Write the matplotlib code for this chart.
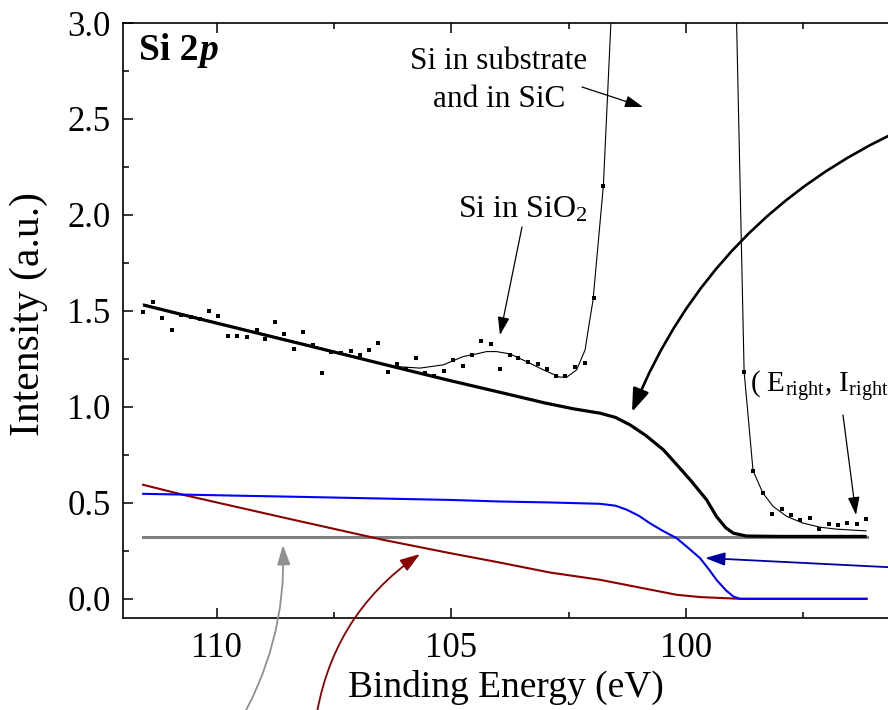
import matplotlib
matplotlib.use("Agg")
import matplotlib.pyplot as plt
from matplotlib.ticker import MultipleLocator

plt.rcParams['font.family'] = ['Liberation Serif', 'DejaVu Serif']
plt.rcParams['mathtext.fontset'] = 'custom'
plt.rcParams['mathtext.rm'] = 'Liberation Serif'
plt.rcParams['mathtext.it'] = 'Liberation Serif:italic'
plt.rcParams['mathtext.bf'] = 'Liberation Serif:bold'

# ---- data (binding energy in eV, intensity in a.u.) ----
dots_E = [111.57, 111.36, 111.16, 110.96, 110.77, 110.56, 110.36, 110.16, 109.97, 109.76,
          109.57, 109.36, 109.15, 108.97, 108.76, 108.56, 108.36, 108.16, 107.96, 107.75,
          107.56, 107.36, 107.15, 106.95, 106.75, 106.56, 106.36, 106.16, 105.96, 105.76,
          105.56, 105.36, 105.16, 104.96, 104.76, 104.56, 104.36, 104.16, 103.96, 103.76,
          103.57, 103.36, 103.16, 102.96, 102.77, 102.57, 102.36, 102.15, 101.96, 101.76,
          98.76, 98.57, 98.36, 98.16, 97.96, 97.76, 97.56, 97.36, 97.16, 96.96,
          96.76, 96.56, 96.36, 96.16]
dots_I = [1.496, 1.545, 1.462, 1.401, 1.481, 1.470, 1.458, 1.500, 1.474, 1.371,
          1.368, 1.365, 1.401, 1.353, 1.444, 1.380, 1.300, 1.389, 1.320, 1.179,
          1.288, 1.282, 1.293, 1.270, 1.297, 1.335, 1.183, 1.223, 1.197, 1.254,
          1.176, 1.160, 1.188, 1.245, 1.214, 1.271, 1.344, 1.326, 1.196, 1.271,
          1.253, 1.236, 1.224, 1.196, 1.161, 1.163, 1.207, 1.228, 1.569, 2.153,
          1.184, 0.668, 0.551, 0.444, 0.469, 0.4375, 0.408, 0.423, 0.365, 0.392,
          0.387, 0.396, 0.392, 0.417]

fit_E = [111.57, 111.0, 110.0, 109.0, 108.0, 107.2, 106.74, 106.17, 105.67, 105.17,
         104.75, 104.46, 104.25, 104.04, 103.75, 103.40, 103.04, 102.69, 102.54, 102.33,
         102.15, 102.05, 101.98, 101.76, 101.60, 101.45, 101.2, 100.6, 100.0, 99.4,
         99.08, 98.92, 98.76, 98.57, 98.36, 98.14, 97.85, 97.50, 97.14, 96.79, 96.16]
fit_I = [1.535, 1.500, 1.440, 1.380, 1.320, 1.272, 1.240, 1.210, 1.202, 1.219,
         1.262, 1.276, 1.288, 1.288, 1.276, 1.236, 1.193, 1.155, 1.155, 1.193,
         1.297, 1.453, 1.557, 2.153, 3.000, 3.800, 5.000, 6.000, 6.500, 5.500,
         4.800, 3.000, 1.184, 0.668, 0.551, 0.481, 0.429, 0.394, 0.373, 0.363, 0.354]

bg_E = [111.57, 110.0, 108.0, 106.0, 105.03, 104.0, 103.0, 102.4, 101.83, 101.5,
        101.19, 100.85, 100.48, 100.2, 99.91, 99.56, 99.35, 99.15, 98.99, 98.71,
        98.0, 97.0, 96.15]
bg_I = [1.531, 1.436, 1.316, 1.195, 1.137, 1.078, 1.020, 0.990, 0.967, 0.945,
        0.906, 0.850, 0.776, 0.700, 0.620, 0.516, 0.429, 0.370, 0.342, 0.327,
        0.325, 0.325, 0.325]

blue_E = [111.57, 108.0, 105.0, 103.97, 102.90, 101.83, 101.5, 101.26, 101.0, 100.77,
          100.5, 100.20, 99.95, 99.70, 99.5, 99.35, 99.15, 98.99, 98.85, 96.15]
blue_I = [0.547, 0.530, 0.515, 0.507, 0.502, 0.495, 0.485, 0.464, 0.432, 0.394,
          0.355, 0.316, 0.265, 0.212, 0.150, 0.099, 0.045, 0.012, 0.0, 0.0]

red_E = [111.57, 110.72, 108.52, 106.45, 105.03, 103.97, 102.90, 101.83, 100.20, 99.70,
         98.85, 96.15]
red_I = [0.594, 0.542, 0.420, 0.307, 0.238, 0.189, 0.137, 0.099, 0.021, 0.009,
         0.0, 0.0]

grey_E = [111.57, 96.15]
grey_I = [0.32, 0.32]

x_ticks = [110, 105, 100]
y_ticks = [0.0, 0.5, 1.0, 1.5, 2.0, 2.5, 3.0]

# ---- figure ----
W, H = 888, 710
fig = plt.figure(figsize=(W / 100, H / 100), dpi=100)
ax = fig.add_axes([123 / W, (H - 618) / H, (920.5 - 123) / W, (618 - 23) / H])
ax.set_xlim(112.0, 95.0)
ax.set_ylim(-0.1, 3.0)

ax.plot(grey_E, grey_I, color='#808080', lw=2.2, zorder=2)
ax.plot(red_E, red_I, color='#8b0000', lw=1.5, zorder=3)
ax.plot(blue_E, blue_I, color='#0000ff', lw=1.5, zorder=4)
ax.plot(bg_E, bg_I, color='black', lw=2.3, zorder=5, solid_capstyle='butt')
ax.plot(fit_E, fit_I, color='black', lw=0.8, zorder=6)
ax.plot(dots_E, dots_I, linestyle='none', marker='s', ms=2.6, mfc='black',
        mec='black', mew=0, zorder=7)

ax.set_xticks(x_ticks)
ax.set_yticks(y_ticks)
ax.set_yticklabels([f"{v:.1f}" for v in y_ticks])
ax.xaxis.set_minor_locator(MultipleLocator(2.5))
ax.yaxis.set_minor_locator(MultipleLocator(0.25))
ax.tick_params(which='both', direction='in', top=True, right=True, width=1.1,
               labelsize=25)
ax.tick_params(which='major', length=7.5)
ax.tick_params(which='minor', length=4.5)
ax.tick_params(axis='x', pad=10)
ax.tick_params(axis='y', pad=9)
for s in ax.spines.values():
    s.set_linewidth(1.2)


def fx(px):
    return px / W


def fy(py):
    return 1 - py / H


fig.text(fx(506), fy(697), "Binding Energy (eV)", fontsize=27, ha='center',
         va='baseline')
fig.text(fx(29), fy(314), "Intensity (a.u.)", fontsize=30, ha='center',
         va='center', rotation=90)

t = fig.text(fx(139), fy(60), "Si 2", fontsize=27, fontweight='bold',
             ha='left', va='baseline')
ax.annotate("p", xy=(1, 0), xycoords=t, xytext=(1, 0), textcoords='offset points',
            fontsize=27, fontweight='bold', fontstyle='italic', ha='left',
            va='bottom')

fig.text(fx(499), fy(69), "Si in substrate", fontsize=22.5, ha='center', va='baseline')
fig.text(fx(499), fy(107), "and in SiC", fontsize=22.5, ha='center', va='baseline')
fig.text(fx(458), fy(218), r"Si in SiO$_2$", fontsize=23, ha='left', va='baseline')
# this label runs past the right edge, as in the original figure
fig.text(fx(750), fy(393), r"( E$_{\rm right}$, I$_{\rm right}$ )", fontsize=21,
         ha='left', va='baseline')


def arrow(x0, y0, x1, y1, color='black', lw=1.0, rad=0.0, hl=0.6, hw=0.22, ms=20):
    ax.annotate('', xy=(x1, H - y1), xycoords='figure pixels',
                xytext=(x0, H - y0), textcoords='figure pixels',
                annotation_clip=False,
                arrowprops=dict(arrowstyle=f'-|>,head_length={hl},head_width={hw}',
                                color=color, lw=lw, shrinkA=0, shrinkB=0,
                                mutation_scale=ms,
                                connectionstyle=f'arc3,rad={rad}'))


arrow(582, 87, 643, 107, lw=0.9, hl=0.55, hw=0.18)
arrow(522, 227, 500, 335, lw=0.9, hl=0.55, hw=0.18)
arrow(843, 415, 856, 515, lw=0.9, hl=0.55, hw=0.18)
arrow(905, 128, 632, 412, lw=1.9, rad=0.2, hl=0.7, hw=0.25)
arrow(925, 569, 705, 558, color='#0000a0', lw=1.3, hl=0.6, hw=0.2)
arrow(235, 730, 283, 545, color='#909090', lw=1.3, rad=0.15, hl=0.6, hw=0.2)
arrow(315, 725, 420, 554, color='#8b0000', lw=1.3, rad=-0.22, hl=0.6, hw=0.2)

fig.savefig("out.png", dpi=100)
